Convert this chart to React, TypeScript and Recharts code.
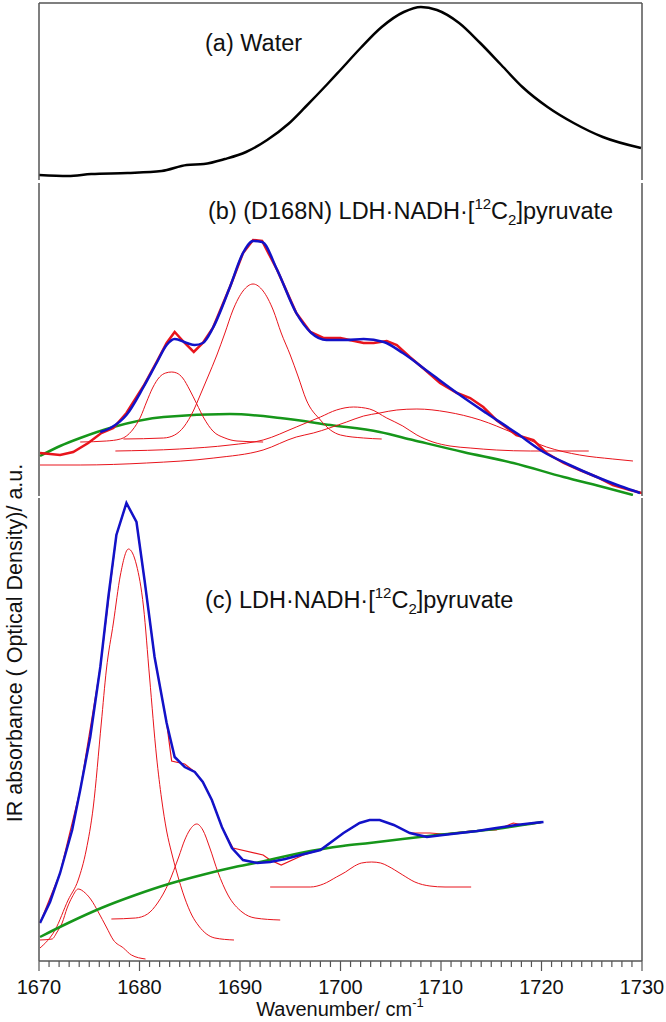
import React from 'react';
import { LineChart, Line, XAxis, YAxis } from 'recharts';

// wavenumber (cm-1) / absorbance (a.u.) pairs
const waterX = [1670.0, 1672.9, 1675.2, 1678.8, 1682.2, 1684.7, 1686.4, 1688.5, 1690.6, 1692.7, 1694.8, 1696.5, 1698.7, 1699.9, 1702.0, 1704.1, 1706.3, 1708.0, 1709.6, 1711.8, 1713.9, 1716.0, 1718.1, 1720.6, 1723.2, 1726.1, 1729.9];
const waterY = [0.05, 0.04, 0.06, 0.07, 0.09, 0.15, 0.16, 0.21, 0.28, 0.40, 0.56, 0.73, 0.96, 1.09, 1.32, 1.53, 1.68, 1.73, 1.70, 1.57, 1.37, 1.15, 0.93, 0.73, 0.57, 0.43, 0.32];

// (b) D168N
const bDataX = [1670.1, 1672.1, 1673.4, 1674.9, 1676.2, 1677.4, 1678.7, 1680.4, 1681.7, 1682.7, 1683.5, 1684.5, 1685.4, 1686.3, 1687.3, 1689.0, 1690.3, 1691.3, 1692.2, 1693.7, 1695.6, 1697.0, 1698.3, 1700.0, 1700.9, 1702.3, 1703.3, 1704.6, 1705.6, 1706.9, 1708.2, 1709.9, 1711.6, 1712.9, 1714.2, 1715.5, 1717.5, 1719.2, 1720.5, 1722.2, 1723.8, 1725.5, 1727.1, 1728.8, 1730.0];
const bDataY = [0.43, 0.41, 0.44, 0.53, 0.63, 0.68, 0.83, 1.10, 1.34, 1.53, 1.64, 1.53, 1.44, 1.53, 1.68, 2.09, 2.43, 2.56, 2.55, 2.26, 1.83, 1.64, 1.58, 1.58, 1.56, 1.53, 1.53, 1.55, 1.51, 1.39, 1.28, 1.13, 1.03, 0.98, 0.89, 0.76, 0.61, 0.56, 0.43, 0.33, 0.26, 0.19, 0.11, 0.06, 0.03];
const bFitX = [1676.1, 1677.1, 1678.7, 1680.4, 1681.7, 1682.7, 1683.5, 1684.7, 1685.5, 1686.3, 1687.3, 1689.0, 1690.3, 1691.3, 1692.2, 1693.7, 1695.6, 1697.1, 1698.6, 1700.6, 1702.3, 1704.3, 1706.2, 1708.9, 1711.6, 1714.5, 1717.5, 1720.2, 1722.8, 1725.5, 1727.8, 1729.8];
const bFitY = [0.64, 0.68, 0.81, 1.09, 1.33, 1.51, 1.57, 1.53, 1.51, 1.53, 1.68, 2.09, 2.43, 2.55, 2.54, 2.26, 1.83, 1.63, 1.56, 1.56, 1.57, 1.54, 1.43, 1.23, 1.03, 0.83, 0.63, 0.44, 0.31, 0.19, 0.10, 0.03];
const bBaseX = [1670.1, 1672.1, 1674.1, 1677.4, 1682.4, 1689.0, 1694.0, 1699.0, 1703.9, 1707.2, 1712.2, 1717.2, 1722.2, 1726.5, 1729.1];
const bBaseY = [0.40, 0.50, 0.58, 0.69, 0.79, 0.82, 0.78, 0.71, 0.64, 0.56, 0.44, 0.33, 0.19, 0.08, 0.01];
const bPk1X = [1674.1, 1676.7, 1678.1, 1678.7, 1679.3, 1680.1, 1680.7, 1681.3, 1682.0, 1682.6, 1683.2, 1683.7, 1684.3, 1685.0, 1685.7, 1686.4, 1687.3, 1688.5, 1689.7, 1692.3];
const bPk1Y = [0.54, 0.55, 0.57, 0.60, 0.66, 0.79, 0.94, 1.08, 1.19, 1.23, 1.24, 1.23, 1.18, 1.06, 0.92, 0.78, 0.65, 0.58, 0.55, 0.54];
const bPk2X = [1678.4, 1682.4, 1683.5, 1684.4, 1685.4, 1686.0, 1686.8, 1687.7, 1688.5, 1689.3, 1690.3, 1691.3, 1692.3, 1693.3, 1694.1, 1695.0, 1695.8, 1696.6, 1698.0, 1699.0, 1700.0, 1702.3, 1704.1];
const bPk2Y = [0.57, 0.58, 0.61, 0.69, 0.86, 1.00, 1.19, 1.41, 1.63, 1.86, 2.05, 2.12, 2.05, 1.86, 1.63, 1.41, 1.19, 0.96, 0.76, 0.66, 0.61, 0.58, 0.57];
const bPk3X = [1677.6, 1684.0, 1689.0, 1692.3, 1695.6, 1698.0, 1699.6, 1701.3, 1702.9, 1704.6, 1706.2, 1707.6, 1709.2, 1710.9, 1712.9, 1715.5, 1718.9, 1724.7];
const bPk3Y = [0.45, 0.47, 0.51, 0.56, 0.69, 0.79, 0.86, 0.89, 0.87, 0.78, 0.70, 0.61, 0.54, 0.50, 0.48, 0.46, 0.45, 0.45];
const bPk4X = [1670.1, 1674.1, 1680.7, 1687.4, 1692.3, 1695.6, 1697.3, 1700.6, 1702.3, 1703.9, 1705.6, 1707.6, 1710.6, 1713.9, 1717.2, 1720.5, 1723.8, 1727.1, 1729.1];
const bPk4Y = [0.31, 0.31, 0.33, 0.38, 0.46, 0.59, 0.63, 0.74, 0.80, 0.83, 0.86, 0.87, 0.84, 0.76, 0.63, 0.49, 0.41, 0.37, 0.35];

// (c) wild type
const cDataX = [1670.1, 1672.1, 1674.1, 1676.1, 1677.7, 1678.7, 1679.7, 1680.5, 1681.5, 1682.7, 1683.2, 1684.5, 1685.5, 1686.3, 1687.2, 1688.2, 1689.3, 1692.3, 1693.0, 1694.1, 1696.3, 1698.0, 1700.3, 1701.9, 1702.9, 1703.9, 1705.3, 1706.9, 1708.9, 1710.2, 1712.9, 1715.5, 1717.2, 1718.2, 1719.9];
const cDataY = [0.38, 0.88, 1.71, 2.94, 4.26, 4.58, 4.39, 3.81, 3.04, 2.38, 2.00, 1.97, 1.89, 1.79, 1.61, 1.34, 1.13, 1.06, 1.01, 0.96, 1.06, 1.11, 1.28, 1.38, 1.41, 1.41, 1.36, 1.28, 1.28, 1.27, 1.30, 1.31, 1.38, 1.36, 1.38];
const cFitX = [1670.1, 1671.1, 1672.1, 1673.3, 1674.1, 1675.1, 1676.1, 1676.9, 1677.7, 1678.7, 1679.7, 1680.5, 1681.5, 1682.7, 1683.5, 1684.5, 1685.5, 1686.3, 1687.2, 1688.2, 1689.2, 1690.3, 1691.7, 1693.0, 1694.5, 1696.0, 1698.0, 1700.3, 1701.9, 1702.9, 1703.9, 1705.3, 1706.9, 1708.6, 1710.2, 1713.6, 1715.5, 1717.5, 1719.2, 1720.2];
const cFitY = [0.38, 0.59, 0.88, 1.31, 1.71, 2.24, 2.94, 3.64, 4.26, 4.58, 4.39, 3.81, 3.04, 2.38, 2.04, 1.94, 1.89, 1.79, 1.61, 1.34, 1.13, 1.01, 0.98, 0.99, 1.02, 1.06, 1.11, 1.28, 1.38, 1.41, 1.41, 1.36, 1.28, 1.24, 1.26, 1.30, 1.33, 1.36, 1.38, 1.39];
const cBaseX = [1670.1, 1672.9, 1676.2, 1679.6, 1682.9, 1686.2, 1689.5, 1691.5, 1696.0, 1700.2, 1702.9, 1709.6, 1716.2, 1720.0];
const cBaseY = [0.24, 0.38, 0.53, 0.66, 0.77, 0.86, 0.94, 0.98, 1.08, 1.15, 1.18, 1.26, 1.33, 1.39];
const cPk1X = [1670.1, 1671.3, 1671.8, 1672.3, 1672.8, 1673.3, 1673.9, 1674.6, 1675.2, 1675.9, 1676.7, 1677.4, 1678.4, 1679.2, 1680.6];
const cPk1Y = [0.21, 0.22, 0.29, 0.38, 0.53, 0.64, 0.72, 0.68, 0.61, 0.49, 0.34, 0.21, 0.13, 0.06, 0.02];
const cPk2X = [1670.1, 1671.6, 1672.9, 1673.9, 1674.7, 1675.4, 1676.2, 1676.7, 1677.4, 1678.1, 1678.9, 1679.7, 1680.4, 1681.0, 1681.7, 1682.2, 1682.7, 1683.2, 1683.7, 1684.5, 1685.2, 1685.9, 1687.5, 1689.4];
const cPk2Y = [0.13, 0.31, 0.61, 0.81, 1.11, 1.54, 2.38, 2.91, 3.38, 3.86, 4.12, 3.96, 3.54, 2.84, 2.04, 1.62, 1.30, 1.08, 0.89, 0.63, 0.46, 0.35, 0.23, 0.21];
const cPk3X = [1677.2, 1679.6, 1680.8, 1681.8, 1682.9, 1683.9, 1684.5, 1685.0, 1685.7, 1686.3, 1687.0, 1687.8, 1688.8, 1690.2, 1691.5, 1694.0];
const cPk3Y = [0.42, 0.43, 0.47, 0.58, 0.78, 1.04, 1.21, 1.31, 1.37, 1.31, 1.13, 0.89, 0.66, 0.49, 0.43, 0.41];
const cPk4X = [1693.0, 1697.0, 1698.3, 1699.6, 1700.5, 1701.4, 1702.1, 1703.1, 1704.0, 1704.7, 1705.4, 1706.2, 1707.4, 1708.9, 1710.4, 1713.0];
const cPk4Y = [0.74, 0.74, 0.77, 0.84, 0.89, 0.95, 0.98, 0.99, 0.98, 0.95, 0.91, 0.86, 0.79, 0.75, 0.74, 0.74];

const xTicks = Array.from({ length: 61 }, (_, i) => 1670 + i);

const pts = (xs: number[], ys: number[]) => xs.map((x, i) => ({ x, y: ys[i] }));

const FONT = "'Liberation Sans', Arial, sans-serif";
const FRAME = '#555';
const BLUE = '#1212c8';
const RED = '#e8141c';
const GREEN = '#16961a';

const BottomTick = (props: any) => {
  const { x, y, payload } = props;
  const major = payload.value % 10 === 0;
  return (
    <g>
      <line x1={x} y1={y} x2={x} y2={y + (major ? 10 : 6)} stroke={FRAME} strokeWidth={1.2} />
      {major && (
        <text x={x} y={y + 33} textAnchor="middle" fontSize={20} fontFamily={FONT} fill="#111">
          {payload.value}
        </text>
      )}
    </g>
  );
};

// left / right frame lines of each panel
const Borders = () => [
  <YAxis key="l" yAxisId="l" orientation="left" width={1} domain={[0, 1]} tick={false} tickLine={false} axisLine={{ stroke: FRAME, strokeWidth: 1.5 }} />,
  <YAxis key="r" yAxisId="r" orientation="right" width={1} domain={[0, 1]} tick={false} tickLine={false} axisLine={{ stroke: FRAME, strokeWidth: 1.5 }} />,
];

const comp = (data: any[], key: string) => (
  <Line key={key} yAxisId="v" data={data} dataKey="y" type="monotone" stroke={RED} strokeWidth={1} dot={false} isAnimationActive={false} />
);

export default function App() {
  const margin = { top: 0, right: 23, bottom: 0, left: 38 };
  return (
    <div style={{ position: 'absolute', top: 0, left: 0, width: 666, height: 1022, background: '#fff' }}>
      {/* (a) */}
      <div style={{ position: 'absolute', top: 0, left: 0 }}>
        <LineChart width={666} height={181} margin={{ ...margin, top: 2, bottom: 1 }}>
          <XAxis type="number" dataKey="x" domain={[1670, 1730]} orientation="top" height={1} tick={false} tickLine={false} axisLine={{ stroke: FRAME, strokeWidth: 1.5 }} allowDataOverflow />
          <YAxis yAxisId="v" hide domain={[0, 1.77]} />
          {Borders()}
          <Line yAxisId="v" data={pts(waterX, waterY)} dataKey="y" type="monotone" stroke="#000" strokeWidth={2.5} dot={false} isAnimationActive={false} />
        </LineChart>
      </div>
      {/* (b) */}
      <div style={{ position: 'absolute', top: 183, left: 0 }}>
        <LineChart width={666} height={313} margin={margin}>
          <XAxis type="number" dataKey="x" domain={[1670, 1730]} hide height={0} allowDataOverflow />
          <YAxis yAxisId="v" hide domain={[0, 3.13]} />
          {Borders()}
          <Line yAxisId="v" data={pts(bBaseX, bBaseY)} dataKey="y" type="monotone" stroke={GREEN} strokeWidth={2.5} dot={false} isAnimationActive={false} />
          {comp(pts(bPk1X, bPk1Y), 'p1')}
          {comp(pts(bPk2X, bPk2Y), 'p2')}
          {comp(pts(bPk3X, bPk3Y), 'p3')}
          {comp(pts(bPk4X, bPk4Y), 'p4')}
          <Line yAxisId="v" data={pts(bDataX, bDataY)} dataKey="y" type="linear" stroke={RED} strokeWidth={2.5} dot={false} isAnimationActive={false} />
          <Line yAxisId="v" data={pts(bFitX, bFitY)} dataKey="y" type="monotone" stroke={BLUE} strokeWidth={2.5} dot={false} isAnimationActive={false} />
        </LineChart>
      </div>
      {/* (c) */}
      <div style={{ position: 'absolute', top: 498, left: 0 }}>
        <LineChart width={666} height={524} margin={margin}>
          <XAxis type="number" dataKey="x" domain={[1670, 1730]} ticks={xTicks} interval={0} height={61} tickSize={0} tickMargin={0} tickLine={false} tick={<BottomTick />} axisLine={{ stroke: FRAME, strokeWidth: 1.5 }} allowDataOverflow />
          <YAxis yAxisId="v" hide domain={[0, 4.63]} />
          {Borders()}
          {comp(pts(cPk1X, cPk1Y), 'c1')}
          {comp(pts(cPk2X, cPk2Y), 'c2')}
          {comp(pts(cPk3X, cPk3Y), 'c3')}
          {comp(pts(cPk4X, cPk4Y), 'c4')}
          <Line yAxisId="v" data={pts(cDataX, cDataY)} dataKey="y" type="linear" stroke={RED} strokeWidth={1.2} dot={false} isAnimationActive={false} />
          <Line yAxisId="v" data={pts(cBaseX, cBaseY)} dataKey="y" type="monotone" stroke={GREEN} strokeWidth={2.5} dot={false} isAnimationActive={false} />
          <Line yAxisId="v" data={pts(cFitX, cFitY)} dataKey="y" type="linear" stroke={BLUE} strokeWidth={2.5} dot={false} isAnimationActive={false} />
        </LineChart>
      </div>
      {/* annotations */}
      <svg width={666} height={1022} style={{ position: 'absolute', top: 0, left: 0, pointerEvents: 'none' }} fontFamily={FONT} fill="#111">
        <text x={205} y={51} fontSize={23.5}>(a) Water</text>
        <text x={208} y={219} fontSize={23.5}>
          (b) (D168N) LDH·NADH·[<tspan dy={-10} fontSize={15}>12</tspan>
          <tspan dy={10}>C</tspan>
          <tspan dy={6} fontSize={15}>2</tspan>
          <tspan dy={-6}>]pyruvate</tspan>
        </text>
        <text x={205} y={608} fontSize={23.5}>
          (c) LDH·NADH·[<tspan dy={-10} fontSize={15}>12</tspan>
          <tspan dy={10}>C</tspan>
          <tspan dy={6} fontSize={15}>2</tspan>
          <tspan dy={-6}>]pyruvate</tspan>
        </text>
        <text x={340} y={1016} fontSize={20} textAnchor="middle">
          Wavenumber/ cm<tspan dy={-9} fontSize={13}>-1</tspan>
        </text>
        <text transform="rotate(-90)" x={-643} y={22} fontSize={21.5} textAnchor="middle">
          IR absorbance ( Optical Density)/ a.u.
        </text>
      </svg>
    </div>
  );
}
